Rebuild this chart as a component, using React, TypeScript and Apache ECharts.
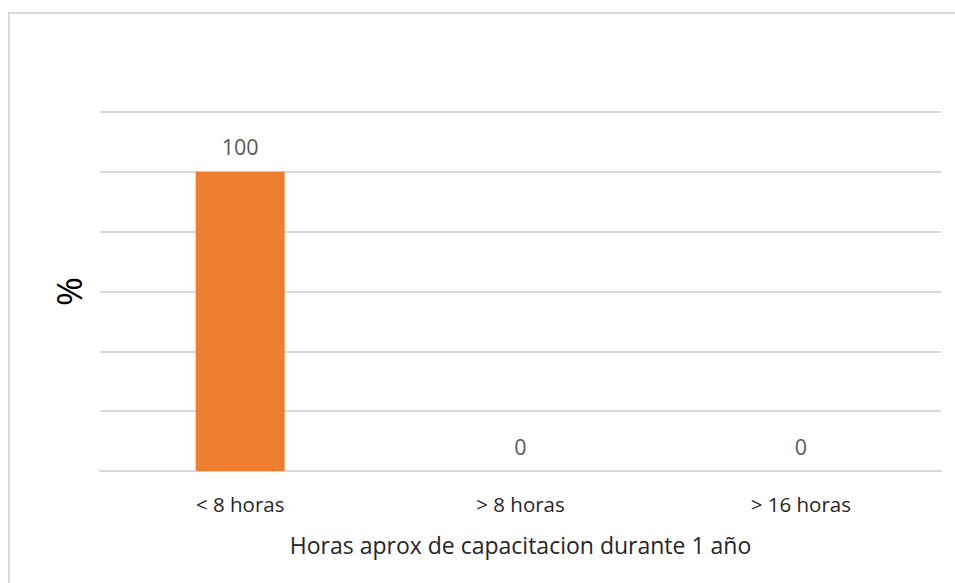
import React, { useEffect, useRef } from "react";
import * as echarts from "echarts";

const categories = ["< 8 horas", "> 8 horas", "> 16 horas"];
const values = [100, 0, 0];
const xAxisTitle = "Horas aprox de capacitacion durante 1 año";
const yAxisTitle = "%";

export default function App() {
  const ref = useRef<HTMLDivElement>(null);
  useEffect(() => {
    if (!ref.current) return;
    const chart = echarts.init(ref.current, null, { renderer: "svg" });
    chart.setOption({
      animation: false,
      backgroundColor: "#ffffff",
      textStyle: { fontFamily: "Open Sans" },
      graphic: [
        {
          type: "rect",
          shape: { x: 9, y: 13, width: 980, height: 620 },
          style: { fill: "none", stroke: "#d9d9d9", lineWidth: 2 },
          silent: true,
        },
      ],
      grid: { left: 100, right: 14, top: 112, bottom: 112 },
      xAxis: {
        type: "category",
        data: categories,
        axisTick: { show: false },
        axisLine: { lineStyle: { color: "#d9d9d9", width: 2 } },
        axisLabel: { color: "#262626", fontSize: 20.5, margin: 22, fontFamily: "Open Sans" },
        name: xAxisTitle,
        nameLocation: "middle",
        nameGap: 62,
        nameTextStyle: { color: "#262626", fontSize: 23, fontFamily: "Open Sans" },
      },
      yAxis: {
        type: "value",
        min: 0,
        max: 120,
        interval: 20,
        axisLabel: { show: false },
        axisLine: { show: false },
        axisTick: { show: false },
        splitLine: { lineStyle: { color: "#d9d9d9", width: 2 } },
        name: yAxisTitle,
        nameLocation: "middle",
        nameGap: 14,
        nameRotate: 90,
        nameTextStyle: { color: "#000000", fontSize: 35, fontFamily: "Open Sans" },
      },
      series: [
        {
          type: "bar",
          data: values,
          barWidth: 89,
          itemStyle: { color: "#ed7d31" },
          label: {
            show: true,
            position: "top",
            distance: 14,
            color: "#595959",
            fontSize: 21.5,
            fontFamily: "Open Sans",
          },
        },
      ],
    });
    return () => chart.dispose();
  }, []);
  return (
    <div
      ref={ref}
      style={{ position: "absolute", left: 0, top: 0, width: 955, height: 583 }}
    />
  );
}
